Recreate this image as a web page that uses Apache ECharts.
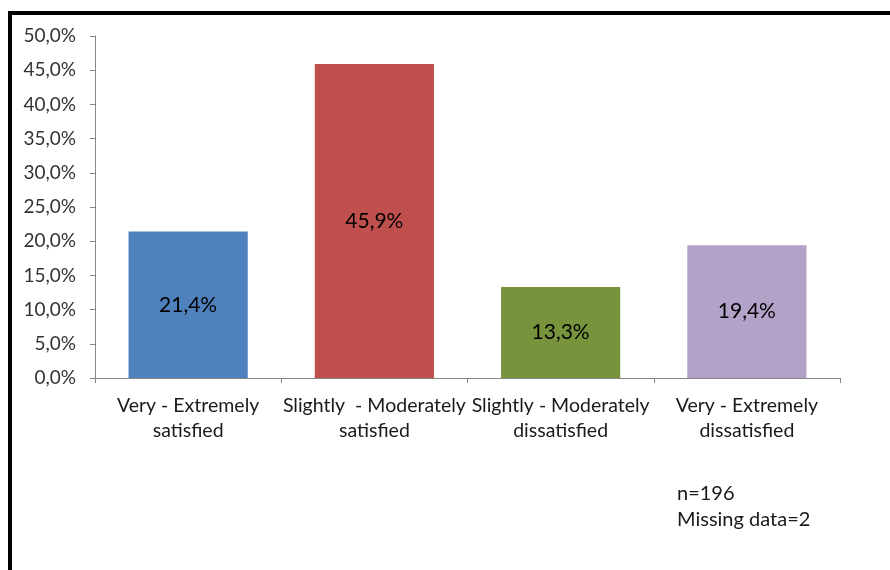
<!DOCTYPE html>
<html>
<head>
<meta charset="utf-8">
<script src="https://cdn.jsdelivr.net/npm/echarts@6/dist/echarts.min.js"></script>
<style>html,body{margin:0;padding:0;background:#fff;}#c{width:890px;height:570px;}</style>
</head>
<body>
<div id="c"></div>
<script>
const categories = ["Very - Extremely\nsatisfied", "Slightly  - Moderately\nsatisfied", "Slightly - Moderately\ndissatisfied", "Very - Extremely\ndissatisfied"];
const values = [21.4, 45.9, 13.3, 19.4];
const barColors = ["#4F81BD", "#C0504D", "#77933C", "#B3A2C7"];
const noteLines = ["n=196", "Missing data=2"];

const fmt = v => v.toFixed(1).replace('.', ',') + '%';
const font = 'Lato, "Open Sans", sans-serif';

const chart = echarts.init(document.getElementById('c'));
chart.setOption({
  animation: false,
  grid: { left: 95, right: 50, top: 36, bottom: 192, containLabel: false },
  xAxis: {
    type: 'category',
    data: categories,
    axisLine: { lineStyle: { color: '#868686', width: 1 } },
    axisTick: { show: true, length: 5, lineStyle: { color: '#868686' } },
    axisLabel: { color: '#1a1a1a', fontFamily: font, fontSize: 19.5, lineHeight: 25, margin: 15, interval: 0 }
  },
  yAxis: {
    type: 'value',
    min: 0, max: 50, interval: 5,
    axisLine: { show: true, lineStyle: { color: '#868686', width: 1 } },
    axisTick: { show: true, length: 5, lineStyle: { color: '#868686' } },
    splitLine: { show: false },
    axisLabel: { color: '#333', fontFamily: font, fontSize: 19, margin: 19, formatter: v => fmt(v) }
  },
  series: [{
    type: 'bar',
    barWidth: '64%',
    data: values.map((v, i) => ({ value: v, itemStyle: { color: barColors[i] } })),
    label: {
      show: true, position: 'inside', color: '#000', fontFamily: font, fontSize: 21,
      formatter: p => fmt(p.value)
    }
  }],
  graphic: [
    { type: 'rect', shape: { x: 10, y: 13, width: 920, height: 620 }, style: { fill: 'none', stroke: '#000', lineWidth: 4 }, silent: true },
    { type: 'text', left: 677, top: 481, style: { text: noteLines.join('\n'), fontFamily: font, fontSize: 20, lineHeight: 26, fill: '#1a1a1a' } }
  ]
});
</script>
</body>
</html>
